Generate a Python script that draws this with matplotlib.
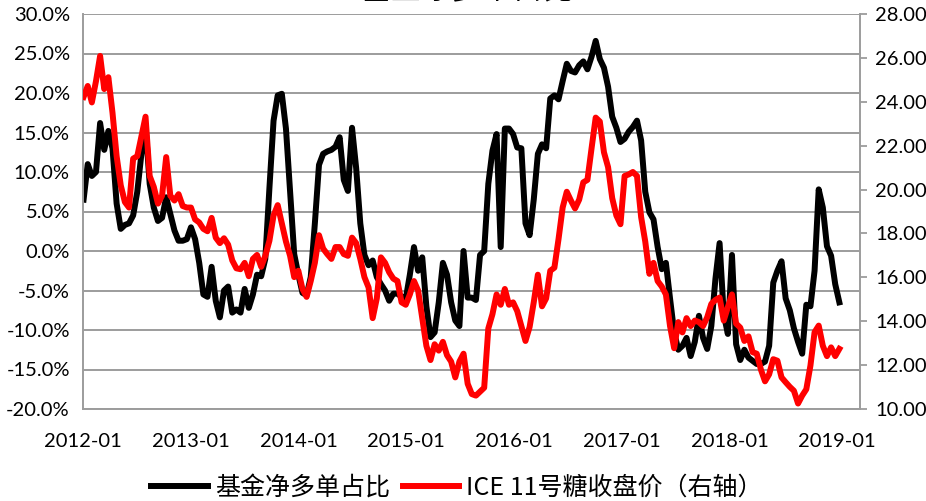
import numpy as np
import pandas as pd
import matplotlib
matplotlib.use("Agg")
import matplotlib.pyplot as plt
import matplotlib.dates as mdates
from matplotlib.ticker import FuncFormatter, MultipleLocator
from matplotlib.lines import Line2D

# ---------------------------------------------------------------------------
# Data (one value every two weeks from 2012-01-03)
# ---------------------------------------------------------------------------
START_DATE = "2012-01-03"

# 基金净多单占比, %
net_long_pct = [
    6.5, 11.0, 9.5, 10.0, 16.2, 12.8, 15.2, 13.0, 6.0, 2.8,
    3.3, 3.5, 4.5, 7.5, 12.3, 15.9, 8.5, 5.5, 3.8, 4.2,
    6.8, 4.7, 2.6, 1.3, 1.3, 1.5, 3.0, 1.5, -1.5, -5.5,
    -5.8, -2.0, -6.3, -8.4, -5.0, -4.5, -7.8, -7.4, -7.8, -4.8,
    -7.2, -5.5, -3.0, -3.2, -1.0, 8.0, 16.5, 19.7, 19.9, 15.5,
    7.5, -0.4, -3.0, -5.3, -5.6, -3.3, 3.5, 10.9, 12.3, 12.6,
    12.8, 13.2, 14.4, 9.0, 7.6, 15.6, 10.5, 3.5, -0.5, -1.8,
    -1.2, -3.3, -4.2, -5.0, -6.3, -5.4, -5.4, -5.8, -6.1, -3.0,
    0.5, -2.5, -0.8, -7.0, -10.9, -10.3, -6.5, -1.5, -3.0, -6.5,
    -8.8, -9.5, 0.0, -5.9, -5.9, -6.2, -0.5, 0.0, 8.5, 12.7,
    14.8, 0.5, 15.5, 15.5, 14.8, 13.1, 13.0, 3.5, 2.0, 6.5,
    12.3, 13.5, 13.0, 19.3, 19.7, 19.2, 21.5, 23.7, 22.8, 22.6,
    23.5, 24.0, 23.0, 24.6, 26.6, 24.3, 23.2, 20.8, 17.0, 15.6,
    13.8, 14.2, 15.1, 15.7, 16.5, 14.0, 7.5, 4.9, 4.0, 0.5,
    -2.3, -1.5, -6.0, -10.3, -12.5, -12.0, -11.0, -13.3, -11.5, -8.2,
    -11.0, -12.4, -9.5, -3.5, 1.0, -8.0, -10.5, -0.5, -11.8, -13.8,
    -12.5, -13.5, -13.9, -14.3, -14.3, -14.0, -12.0, -4.0, -2.5, -1.3,
    -6.0, -7.5, -9.8, -11.5, -13.0, -6.8, -7.0, -2.5, 7.8, 5.5,
    0.6, -0.6, -4.2, -6.5,
]

# ICE 11号糖收盘价 (右轴), US cents/lb
sugar_close = [
    24.22, 24.72, 23.97, 24.94, 26.09, 24.58, 25.12, 23.50, 21.52, 20.19,
    19.43, 19.18, 21.41, 21.52, 22.42, 23.32, 20.62, 20.12, 19.36, 19.72,
    21.48, 19.72, 19.50, 19.79, 19.25, 19.18, 19.18, 18.64, 18.50, 18.21,
    18.10, 18.71, 17.81, 17.56, 17.78, 17.49, 16.77, 16.41, 16.37, 16.66,
    16.05, 16.84, 17.02, 16.48, 16.98, 17.67, 18.82, 19.29, 18.46, 17.63,
    16.98, 16.01, 16.30, 15.47, 15.11, 15.83, 16.66, 17.92, 17.31, 17.06,
    16.84, 17.38, 17.38, 17.06, 16.98, 17.81, 17.56, 16.84, 16.01, 15.54,
    14.14, 15.04, 16.91, 16.66, 16.23, 15.94, 15.83, 14.86, 14.75, 15.22,
    15.83, 15.40, 14.14, 12.88, 12.23, 12.95, 12.66, 13.06, 12.45, 12.16,
    11.44, 12.16, 12.52, 11.15, 10.68, 10.61, 10.79, 10.97, 13.67, 14.32,
    15.22, 14.75, 15.47, 14.75, 14.86, 14.46, 13.78, 13.10, 13.74, 14.86,
    16.12, 14.68, 15.04, 16.30, 16.44, 17.74, 19.18, 19.90, 19.50, 19.14,
    19.54, 20.33, 20.44, 21.88, 23.28, 23.10, 21.70, 21.02, 19.61, 18.82,
    18.42, 20.62, 20.69, 20.80, 20.62, 18.75, 17.63, 16.16, 16.66, 15.83,
    15.58, 15.22, 13.78, 12.77, 13.96, 13.49, 14.14, 13.78, 14.03, 13.96,
    13.78, 14.18, 14.79, 14.97, 15.08, 14.03, 14.64, 15.22, 13.89, 13.71,
    13.10, 13.31, 12.59, 12.52, 11.80, 11.26, 11.58, 12.27, 12.20, 11.44,
    11.22, 11.01, 10.83, 10.25, 10.61, 10.90, 11.98, 13.50, 13.80, 12.88,
    12.41, 12.81, 12.41, 12.74,
]

year_ticks = ["2012-01", "2013-01", "2014-01", "2015-01",
              "2016-01", "2017-01", "2018-01", "2019-01"]

TITLE = "基金净多单占比"
LABEL_NET = "基金净多单占比"
LABEL_SUGAR = "ICE 11号糖收盘价（右轴）"

GRID_GREY = "#9c9c9c"
RED = "#ff0000"
LW = 4.3
NUM_FONT = ["Lato", "DejaVu Sans"]
CJK_FONT = ["Noto Sans CJK SC", "DejaVu Sans"]

dates = pd.date_range(START_DATE, periods=len(net_long_pct), freq="14D")

# ---------------------------------------------------------------------------
# Figure
# ---------------------------------------------------------------------------
W, H = 926, 501
fig = plt.figure(figsize=(W / 100, H / 100), dpi=100)
ax = fig.add_axes([83 / W, 1 - 409 / H, (860 - 83) / W, (409 - 14) / H])
ax2 = ax.twinx()

ax.plot(dates, net_long_pct, color="black", lw=LW, solid_joinstyle="round")
ax2.plot(dates, sugar_close, color=RED, lw=LW, solid_joinstyle="round")

# left axis (percent)
ax.set_ylim(-20, 30)
ax.yaxis.set_major_locator(MultipleLocator(5))
ax.yaxis.set_major_formatter(FuncFormatter(lambda v, _: f"{v:.1f}%"))
ax.grid(axis="y", color=GRID_GREY, lw=1.4)
ax.set_axisbelow(True)

# right axis (price)
ax2.set_ylim(10, 28)
ax2.yaxis.set_major_locator(MultipleLocator(2))
ax2.yaxis.set_major_formatter(FuncFormatter(lambda v, _: f"{v:.2f}"))

# x axis
ax.set_xlim(pd.Timestamp("2012-01-01"), pd.Timestamp("2019-03-19"))
ax.set_xticks([pd.Timestamp(t + "-01") for t in year_ticks])
ax.xaxis.set_major_formatter(mdates.DateFormatter("%Y-%m"))

for a in (ax, ax2):
    for side in ("top", "left", "right", "bottom"):
        a.spines[side].set_visible(False)
ax.spines["left"].set_visible(True)
ax.spines["bottom"].set_visible(True)
ax2.spines["right"].set_visible(True)
for sp in (ax.spines["left"], ax.spines["bottom"], ax2.spines["right"]):
    sp.set_color(GRID_GREY)
    sp.set_linewidth(1.4)

ax.tick_params(axis="y", length=0, pad=9.5, labelsize=14.5, labelcolor="black")
ax.tick_params(axis="x", length=0, pad=17, labelsize=14.5, labelcolor="black")
ax2.tick_params(axis="y", length=5, width=1.3, color=GRID_GREY, direction="out",
                pad=6, labelsize=14.5, labelcolor="black")
for lab in ax.get_xticklabels() + ax.get_yticklabels() + ax2.get_yticklabels():
    lab.set_family(NUM_FONT)

# title, clipped at the top edge like the source
fig.text(468 / W, 1 - 5 / H, TITLE, ha="center", va="bottom",
         fontsize=22, family=CJK_FONT)

# legend
handles = [Line2D([], [], color="black", lw=LW),
           Line2D([], [], color=RED, lw=LW)]
fig.legend(handles, [LABEL_NET, LABEL_SUGAR], loc="center",
           bbox_to_anchor=(457 / W, 1 - 488 / H), ncol=2, frameon=False,
           prop={"family": CJK_FONT, "size": 18}, handlelength=2.25,
           handletextpad=0.3, columnspacing=0.5, borderaxespad=0)

fig.savefig("out.png", dpi=100)
